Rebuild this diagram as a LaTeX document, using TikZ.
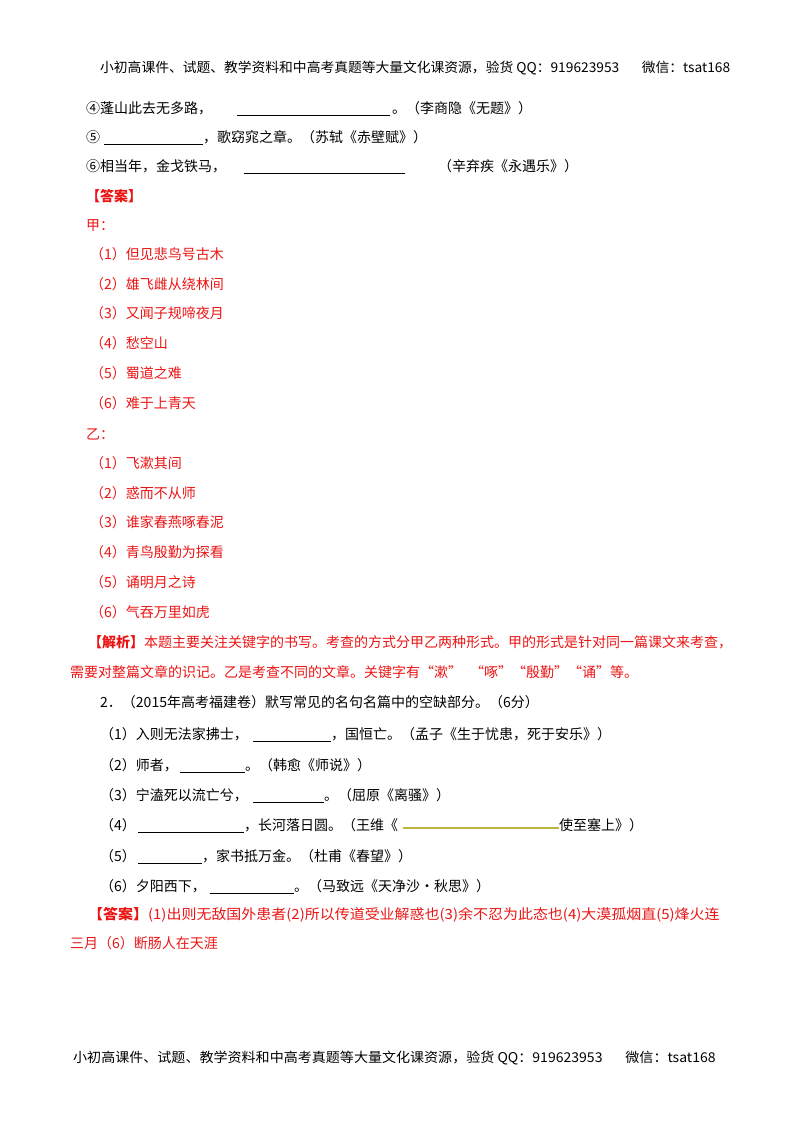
\documentclass[tikz,border=0pt]{standalone}
\usepackage{fontspec}
\setmainfont{Noto Sans CJK SC}
\definecolor{ans}{RGB}{235,20,20}
\definecolor{oliveline}{RGB}{190,180,60}
\begin{document}
\begin{tikzpicture}[x=1pt,y=-1pt,
  t/.style={anchor=base west,inner sep=0pt,font=\fontsize{14}{14}\selectfont},
  r/.style={t,text=ans},
  hd/.style={anchor=base west,inner sep=0pt,font=\fontsize{13.5}{13.5}\selectfont},
  ul/.style={line width=0.8pt}]
\useasboundingbox (0,0) rectangle (800,1132);
\node[hd] (h1) at (100,73) {\scalebox{1.02}[1]{小初高课件、试题、教学资料和中高考真题等大量文化课资源，验货 QQ：919623953\hspace{22pt}微信：tsat168}};
\node[t] (a4) at (86,113) {④蓬山此去无多路，};
\draw[ul] (237,115) -- (390,115);
\node[t] (a4b) at (392,113) {。（李商隐《无题》）};
\node[t] (a5) at (86,142) {⑤};
\draw[ul] (104,144) -- (203,144);
\node[t] (a5b) at (203,142) {，歌窈窕之章。（苏轼《赤壁赋》）};
\node[t] (a6) at (86,171) {⑥相当年，金戈铁马，};
\draw[ul] (244,173) -- (405,173);
\node[t] (a6b) at (438,171) {（辛弃疾《永遇乐》）};
\node[r,font=\fontsize{14}{14}\selectfont\bfseries] (da) at (86,201) {【答案】};
\node[r] (jia) at (86,230) {甲：};
\foreach \y/\s [count=\i] in {259/但见悲鸟号古木,289/雄飞雌从绕林间,318/又闻子规啼夜月,348/愁空山,378/蜀道之难,408/难于上青天}
  \node[r] (j\i) at (90,\y) {（\i）\s};
\node[r] (yi) at (86,439) {乙：};
\foreach \y/\s [count=\i] in {468/飞漱其间,498/惑而不从师,527/谁家春燕啄春泥,557/青鸟殷勤为探看,587/诵明月之诗,617/气吞万里如虎}
  \node[r] (y\i) at (90,\y) {（\i）\s};
\node[r] (jx1) at (88,647) {\textbf{【解析】}本题主要关注关键字的书写。考查的方式分甲乙两种形式。甲的形式是针对同一篇课文来考查，};
\node[r] (jx2) at (70,677) {需要对整篇文章的识记。乙是考查不同的文章。关键字有“漱”\hspace{8pt}“啄”“殷勤”“诵”等。};
\node[t] (q2) at (100,707) {2．（2015年高考福建卷）默写常见的名句名篇中的空缺部分。（6分）};
\node[t] (b1) at (100,739) {（1）入则无法家拂士，};
\draw[ul] (253,741) -- (331,741);
\node[t] (b1b) at (331,739) {，国恒亡。（孟子《生于忧患，死于安乐》）};
\node[t] (b2) at (100,770) {（2）师者，};
\draw[ul] (180,772) -- (245,772);
\node[t] (b2b) at (245,770) {。（韩愈《师说》）};
\node[t] (b3) at (100,800) {（3）宁溘死以流亡兮，};
\draw[ul] (253,802) -- (324,802);
\node[t] (b3b) at (324,800) {。（屈原《离骚》）};
\node[t] (b4) at (100,830) {（4）};
\draw[ul] (138,832) -- (244,832);
\node[t] (b4b) at (244,830) {，长河落日圆。（王维《};
\draw[oliveline,line width=2pt] (403,828) -- (559,828);
\node[t] (b4c) at (559,830) {使至塞上》）};
\node[t] (b5) at (100,861) {（5）};
\draw[ul] (138,863) -- (202,863);
\node[t] (b5b) at (202,861) {，家书抵万金。（杜甫《春望》）};
\node[t] (b6) at (100,891) {（6）夕阳西下，};
\draw[ul] (210,893) -- (294,893);
\node[t] (b6b) at (294,891) {。（马致远《天净沙·秋思》）};
\node[r] (d1) at (88,919) {\scalebox{1.07}[1]{\textbf{【答案】}(1)出则无敌国外患者(2)所以传道受业解惑也(3)余不忍为此态也(4)大漠孤烟直(5)烽火连}};
\node[r] (d2) at (70,948) {三月（6）断肠人在天涯};
\node[hd] (h2) at (73,1062) {\scalebox{1.04}[1]{小初高课件、试题、教学资料和中高考真题等大量文化课资源，验货 QQ：919623953\hspace{22pt}微信：tsat168}};
\end{tikzpicture}
\end{document}
